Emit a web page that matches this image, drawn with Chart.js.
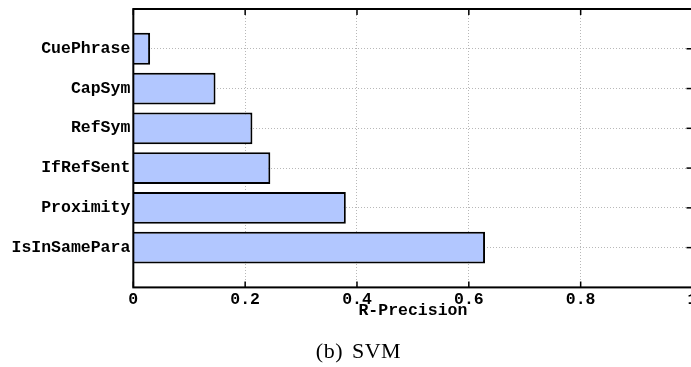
<!DOCTYPE html>
<html>
<head>
<meta charset="utf-8">
<script src="https://cdn.jsdelivr.net/npm/chart.js@4/dist/chart.umd.min.js"></script>
<style>
  html, body { margin: 0; padding: 0; overflow: hidden; background: #fff; }
  #wrap { position: absolute; left: 0; top: 0; width: 720px; height: 367px; }
  #caption {
    position: absolute; left: 0; top: 340px; width: 717px;
    text-align: center; line-height: 22px;
    font-family: "Liberation Serif", "DejaVu Serif", serif; font-size: 22px;
    letter-spacing: 0.5px; word-spacing: 3px; color: #000;
  }
</style>
</head>
<body>
<div id="wrap"><canvas id="chart"></canvas></div>
<div id="caption">(b) SVM</div>
<script>
// top to bottom, as in the figure
const features = ['CuePhrase', 'CapSym', 'RefSym', 'IfRefSent', 'Proximity', 'IsInSamePara'];
const rPrecision = [0.030, 0.147, 0.213, 0.245, 0.380, 0.629];
const xTicks = [0, 0.2, 0.4, 0.6, 0.8, 1];

const monoBold = { family: '"Liberation Mono", "DejaVu Sans Mono", monospace', size: 16.5, weight: 'bold' };

// frame + inward tick marks, like the matlab-style box
const framePlugin = {
    id: 'frame',
    afterDraw(chart) {
        const { ctx, chartArea: a, scales } = chart;
        ctx.save();
        ctx.strokeStyle = '#000';
        ctx.lineWidth = 2;
        ctx.strokeRect(a.left, a.top, a.right - a.left, a.bottom - a.top);
        ctx.lineWidth = 1.5;
        xTicks.forEach(t => {
            const px = scales.x.getPixelForValue(t);
            ctx.beginPath();
            ctx.moveTo(px, a.bottom); ctx.lineTo(px, a.bottom - 6);
            ctx.moveTo(px, a.top); ctx.lineTo(px, a.top + 6);
            ctx.stroke();
        });
        features.forEach((f, i) => {
            const py = scales.y.getPixelForValue(i + 1);
            ctx.beginPath();
            ctx.moveTo(a.right, py); ctx.lineTo(a.right - 6, py);
            ctx.stroke();
        });
        ctx.restore();
    }
};

new Chart(document.getElementById('chart'), {
    type: 'bar',
    data: {
        datasets: [{
            data: rPrecision.map((v, i) => ({ x: v, y: i + 1 })),
            backgroundColor: 'rgb(178, 199, 255)',
            borderColor: '#000',
            borderWidth: 2,
            barPercentage: 0.8,
            categoryPercentage: 1
        }]
    },
    options: {
        indexAxis: 'y',
        responsive: true,
        maintainAspectRatio: false,
        animation: false,
        layout: { padding: { left: 8.5, right: 27.5, top: 9, bottom: 46 } },
        plugins: {
            legend: { display: false },
            tooltip: { enabled: false }
        },
        scales: {
            x: {
                type: 'linear',
                min: 0,
                max: 1,
                afterBuildTicks: scale => { scale.ticks = xTicks.map(v => ({ value: v })); },
                border: { display: false, dash: [1, 2] },
                grid: { color: '#b8b8b8', drawTicks: false },
                ticks: {
                    color: '#000',
                    font: monoBold,
                    padding: 3,
                    maxRotation: 0,
                    autoSkip: false,
                    callback: v => String(v)
                },
                title: {
                    display: true,
                    text: 'R-Precision',
                    color: '#000',
                    font: monoBold,
                    padding: { top: -12, bottom: 0 }
                }
            },
            y: {
                type: 'linear',
                reverse: true,
                offset: false,
                min: 0,
                max: features.length + 1,
                afterBuildTicks: scale => { scale.ticks = features.map((f, i) => ({ value: i + 1 })); },
                // labels sit well inside the axis, no need for overhang room
                afterFit: scale => { scale.paddingTop = 0; scale.paddingBottom = 0; },
                border: { display: false, dash: [1, 2] },
                grid: { color: '#b8b8b8', drawTicks: false, offset: false },
                ticks: {
                    color: '#000',
                    font: monoBold,
                    padding: 3,
                    callback: v => features[v - 1] || ''
                }
            }
        }
    },
    plugins: [framePlugin]
});
</script>
</body>
</html>
